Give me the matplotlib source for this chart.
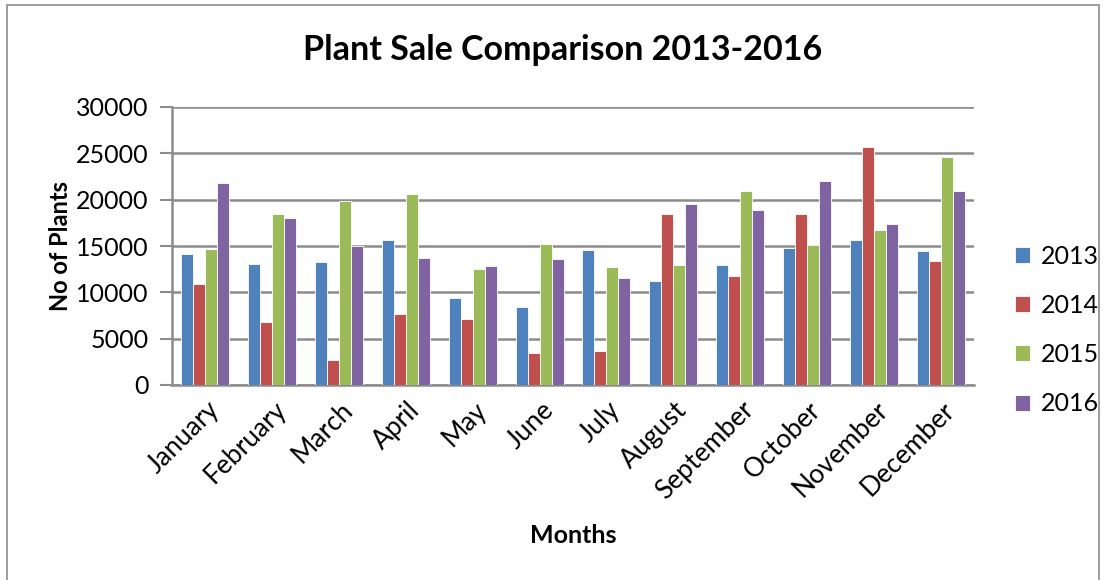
import numpy as np
import matplotlib.pyplot as plt
import matplotlib.transforms as mtransforms
from matplotlib.patches import Rectangle

# Monthly plant sales per year
months = ['January', 'February', 'March', 'April', 'May', 'June', 'July',
          'August', 'September', 'October', 'November', 'December']
sales_2013 = [14100, 13100, 13250, 15650, 9400, 8400, 14600, 11250, 13000, 14800, 15700, 14500]
sales_2014 = [10850, 6850, 2700, 7700, 7100, 3400, 3700, 18450, 11800, 18500, 25700, 13400]
sales_2015 = [14700, 18400, 19850, 20600, 12500, 15200, 12700, 13000, 20950, 15150, 16700, 24600]
sales_2016 = [21750, 18000, 15000, 13750, 12850, 13550, 11500, 19500, 18850, 22050, 17350, 20950]
years = ['2013', '2014', '2015', '2016']
colors = ['#4F81BD', '#C0504D', '#9BBB59', '#8064A2']

plt.rcParams['font.family'] = ['Lato', 'DejaVu Sans']

fig = plt.figure(figsize=(11.06, 5.8), dpi=100)
ax = fig.add_axes([172 / 1106, 1 - 385 / 580, 802 / 1106, 278 / 580])

series = [sales_2013, sales_2014, sales_2015, sales_2016]
x = np.arange(len(months))
w = 0.18
for i, (vals, c, lab) in enumerate(zip(series, colors, years)):
    ax.bar(x + (i - 1.5) * w, vals, width=w, color=c, label=lab,
           edgecolor='white', linewidth=0.6, zorder=3)

ax.set_xlim(-0.5, len(months) - 0.5)
ax.set_ylim(0, 30000)
ax.set_yticks(range(0, 30001, 5000))
ax.yaxis.grid(True, color='#8c8c8c', linewidth=1.8, zorder=0)
ax.tick_params(axis='y', length=9, width=1.5, color='#8c8c8c', labelsize=18, pad=8)
ax.tick_params(axis='x', length=0, labelsize=19, pad=15)
ax.set_xticks(x)
ax.set_xticklabels(months, rotation=45, ha='right', va='center', rotation_mode='anchor')
shift = mtransforms.ScaledTranslation(10 / 100, 0, fig.dpi_scale_trans)
for t in ax.get_xticklabels():
    t.set_transform(t.get_transform() + shift)

for s in ['top', 'right']:
    ax.spines[s].set_visible(False)
for s in ['left', 'bottom']:
    ax.spines[s].set_color('#8c8c8c')
    ax.spines[s].set_linewidth(1.8)

ax.set_xlabel('Months', fontsize=18, fontweight='bold', labelpad=14)
ax.set_ylabel('No of Plants', fontsize=17, fontweight='bold', labelpad=3)
fig.text(563 / 1106, 1 - 50 / 580, 'Plant Sale Comparison 2013-2016',
         fontsize=24.5, fontweight='bold', ha='center', va='center')

fig.legend(loc='center left', bbox_to_anchor=(1015 / 1106, 1 - 330 / 580), frameon=False,
           fontsize=18, handlelength=0.6, handleheight=0.6, labelspacing=1.05,
           handletextpad=0.45, borderaxespad=0, borderpad=0)

fig.patches.append(Rectangle((0.006, -0.02), 0.988, 1.012, transform=fig.transFigure,
                             fill=False, edgecolor='#8c8c8c', linewidth=1.2))

fig.savefig('out.png', dpi=100, facecolor='white')
